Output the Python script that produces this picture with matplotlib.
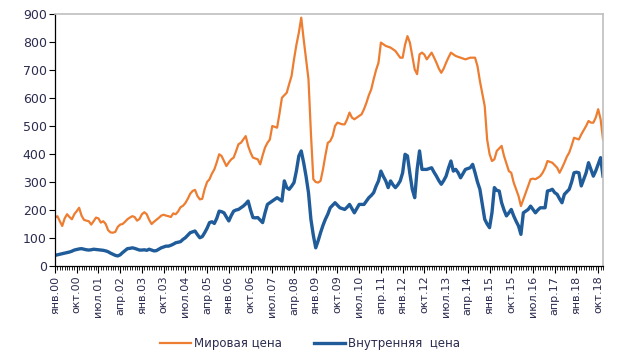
import numpy as np
import matplotlib
matplotlib.use('Agg')
import matplotlib.pyplot as plt
from matplotlib.ticker import MultipleLocator

# monthly prices, Jan 2000 .. Dec 2018
world = [173, 178, 160, 143, 170, 185, 175, 167, 185, 196, 208, 180,
         165, 162, 160, 148, 160, 173, 170, 155, 160, 150, 128, 120,
         119, 122, 140, 148, 150, 158, 167, 173, 178, 175, 162, 168,
         185, 192, 185, 165, 150, 158, 165, 172, 180, 183, 180, 178,
         175, 188, 185, 195, 210, 215, 225, 240, 258, 268, 272, 250,
         238, 240, 275, 300, 310, 330, 345, 370, 399, 393, 375, 357,
         370, 381, 387, 410, 435, 440, 452, 464, 429, 405, 387, 384,
         381, 363, 395, 423, 440, 452, 500, 497, 494, 545, 601, 610,
         619, 650, 679, 738, 790, 833, 887, 810, 740, 667, 476, 310,
         300, 298, 304, 345, 395, 440, 446, 464, 500, 512, 509, 506,
         506, 524, 548, 530, 524, 530, 536, 542, 560, 583, 610, 631,
         667, 700, 726, 798, 792, 786, 783, 780, 774, 768, 756, 744,
         744, 790, 821, 798, 750, 702, 685, 756, 762, 755, 738, 750,
         762, 745, 726, 705, 690, 705, 726, 745, 762, 756, 750, 747,
         744, 741, 738, 741, 744, 744, 744, 714, 661, 616, 571, 452,
         400, 375, 381, 411, 420, 429, 393, 366, 339, 333, 298, 274,
         250, 214, 238, 262, 286, 310, 312, 310, 315, 321, 333, 350,
         375, 372, 369, 360, 351, 333, 350, 369, 390, 405, 430, 458,
         455, 452, 470, 485, 500, 518, 512, 512, 530, 560, 524, 452]

domestic = [38, 40, 42, 44, 46, 48, 50, 53, 57, 59, 61, 62,
            60, 58, 57, 58, 60, 59, 58, 57, 56, 54, 51, 46,
            42, 38, 36, 40, 48, 55, 62, 63, 65, 63, 60, 57,
            57, 58, 56, 60, 57, 54, 55, 60, 65, 68, 71, 71,
            74, 78, 83, 85, 87, 95, 101, 110, 119, 122, 125, 112,
            101, 105, 119, 135, 155, 158, 152, 170, 196, 194, 190, 175,
            161, 180, 196, 200, 202, 208, 214, 222, 232, 200, 173, 172,
            173, 164, 155, 190, 220, 226, 232, 238, 244, 238, 232, 304,
            280, 274, 285, 298, 340, 393, 411, 369, 320, 262, 167, 110,
            65, 90, 119, 145, 167, 185, 208, 217, 226, 217, 208, 205,
            202, 210, 220, 205, 190, 205, 220, 220, 220, 232, 244, 252,
            262, 285, 304, 339, 320, 304, 280, 304, 290, 280, 290, 304,
            333, 399, 393, 330, 274, 244, 345, 411, 345, 345, 345, 348,
            351, 335, 321, 305, 292, 305, 321, 350, 375, 339, 345, 333,
            315, 330, 345, 348, 351, 363, 333, 300, 274, 220, 167, 150,
            137, 190, 280, 270, 268, 226, 200, 179, 190, 202, 179, 160,
            143, 113, 190, 196, 202, 214, 202, 190, 200, 208, 208, 208,
            268, 270, 274, 262, 256, 240, 226, 256, 265, 274, 300, 333,
            335, 333, 286, 310, 333, 369, 345, 321, 340, 363, 387, 321]

month_names = ['янв', 'фев', 'мар', 'апр', 'май', 'июн',
               'июл', 'авг', 'сен', 'окт', 'ноя', 'дек']

labels = []
for i in range(len(world)):
    labels.append('{0}.{1:02d}'.format(month_names[i % 12], i // 12))

x = np.arange(len(world))
text_col = '#2B2B4F'

fig = plt.figure(figsize=(6.2, 3.59), dpi=100)
ax = fig.add_axes([0.0887, 0.259, 0.8839, 0.702])

ax.plot(x, world, color='#ED7D31', lw=1.6, label='Мировая цена')
ax.plot(x, domestic, color='#1F5C99', lw=2.4, label='Внутренняя  цена')

ax.set_xlim(0, len(world) - 1)
ax.set_ylim(0, 900)
ax.yaxis.set_major_locator(MultipleLocator(100))

major = x[::9]
ax.set_xticks(major)
ax.set_xticklabels([labels[i] for i in major], rotation=90)
ax.set_xticks(x, minor=True)
ax.tick_params(axis='x', which='major', length=5, width=0.8, colors='black',
               labelcolor=text_col, labelsize=8, pad=2)
ax.tick_params(axis='x', which='minor', length=3, width=0.6, colors='black')
ax.tick_params(axis='y', length=4, width=0.8, labelcolor=text_col,
               labelsize=9, pad=2)

for s in ['top', 'right']:
    ax.spines[s].set_color('#BFBFBF')
    ax.spines[s].set_linewidth(1.2)
for s in ['left', 'bottom']:
    ax.spines[s].set_color('black')
    ax.spines[s].set_linewidth(0.9)

fig.legend(loc='lower center', bbox_to_anchor=(0.5, -0.005), ncol=2,
           frameon=False, fontsize=8.5, handlelength=2.6, columnspacing=2.8,
           handletextpad=0.2, labelcolor=text_col)

fig.savefig('out.png', dpi=100)
